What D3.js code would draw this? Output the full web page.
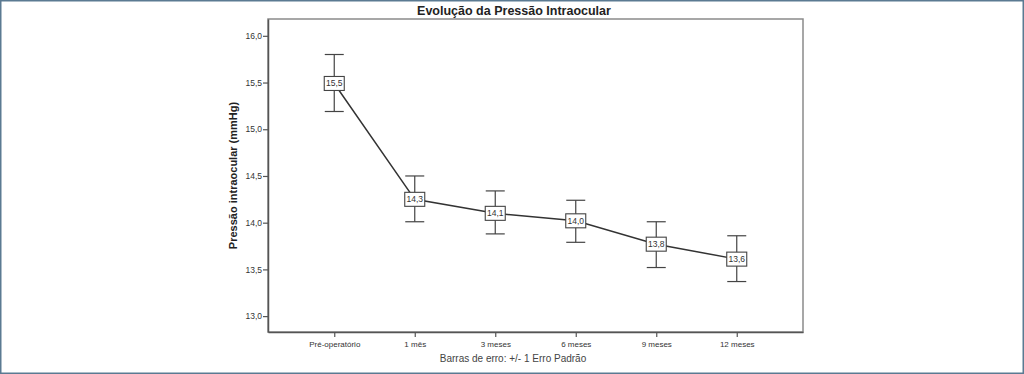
<!DOCTYPE html>
<html><head><meta charset="utf-8">
<script src="https://cdn.jsdelivr.net/npm/d3@7"></script>
<style>
html,body{margin:0;padding:0;background:#fff;}
svg{display:block;}
</style></head>
<body>
<svg id="c" width="1024" height="374"></svg>
<script>
const categories = ["Pré-operatório","1 mês","3 meses","6 meses","9 meses","12 meses"];
const means = [15.49, 14.25, 14.10, 14.02, 13.77, 13.61];
const upper = [15.80, 14.50, 14.34, 14.24, 14.01, 13.86];
const lower = [15.19, 14.01, 13.88, 13.79, 13.52, 13.37];
const valueLabels = ["15,5","14,3","14,1","14,0","13,8","13,6"];
const yTicks = [13.0, 13.5, 14.0, 14.5, 15.0, 15.5, 16.0];

const svg = d3.select("#c");
const W = 1024, H = 374;
const m = {left:268, right:803, top:19, bottom:332};

// outer frame
svg.append("rect").attr("x",0.75).attr("y",0.75).attr("width",W-1.5).attr("height",H-1.5)
  .attr("fill","#fff").attr("stroke","#5b7a92").attr("stroke-width",1.5);

const x = d3.scalePoint().domain(categories).range([m.left, m.right]).padding(0.823);
const y = d3.scaleLinear().domain([12.83, 16.18]).range([m.bottom, m.top]);

// plot frame
svg.append("rect").attr("x",m.left).attr("y",m.top).attr("width",m.right-m.left).attr("height",m.bottom-m.top)
  .attr("fill","none").attr("stroke","#8a8a8a").attr("stroke-width",1.5);

const fmt = d => d.toFixed(1).replace(".", ",");
const yAxis = d3.axisLeft(y).tickValues(yTicks).tickFormat(fmt).tickSize(5).tickSizeOuter(0);
const gy = svg.append("g").attr("transform",`translate(${m.left},0)`).call(yAxis);
gy.select(".domain").attr("stroke","#555").attr("stroke-width",1.5);
gy.selectAll(".tick line").attr("stroke","#555").attr("stroke-width",1.2);
gy.selectAll(".tick text").attr("font-family","Arial, 'Liberation Sans', sans-serif").attr("font-size",8.5).attr("fill","#333").attr("x",-6);

const xAxis = d3.axisBottom(x).tickSize(5).tickSizeOuter(0);
const gx = svg.append("g").attr("transform",`translate(0,${m.bottom})`).call(xAxis);
gx.select(".domain").attr("stroke","#555").attr("stroke-width",1.5);
gx.selectAll(".tick line").attr("stroke","#555").attr("stroke-width",1.2);
gx.selectAll(".tick text").attr("font-family","Arial, 'Liberation Sans', sans-serif").attr("font-size",8).attr("fill","#333").attr("y",9);

// title
svg.append("text").attr("x",514).attr("y",15).attr("text-anchor","middle")
  .attr("font-family","Arial, 'Liberation Sans', sans-serif").attr("font-weight","bold").attr("font-size",12.5).attr("fill","#222")
  .text("Evolução da Pressão Intraocular");

// y title
svg.append("text").attr("transform",`translate(237,${(m.top+m.bottom)/2}) rotate(-90)`).attr("text-anchor","middle")
  .attr("font-family","Arial, 'Liberation Sans', sans-serif").attr("font-weight","bold").attr("font-size",11).attr("fill","#222")
  .text("Pressão intraocular (mmHg)");

// x title
svg.append("text").attr("x",513).attr("y",362).attr("text-anchor","middle")
  .attr("font-family","Arial, 'Liberation Sans', sans-serif").attr("font-size",10).attr("fill","#444")
  .text("Barras de erro: +/- 1 Erro Padrão");

const data = categories.map((c,i)=>({c, m:means[i], u:upper[i], l:lower[i], lab:valueLabels[i]}));

// error bars
const eb = svg.append("g").attr("stroke","#444").attr("stroke-width",1.2).attr("fill","none");
data.forEach(d=>{
  const cx = x(d.c);
  eb.append("line").attr("x1",cx).attr("x2",cx).attr("y1",y(d.u)).attr("y2",y(d.l));
  eb.append("line").attr("x1",cx-9.5).attr("x2",cx+9.5).attr("y1",y(d.u)).attr("y2",y(d.u));
  eb.append("line").attr("x1",cx-9.5).attr("x2",cx+9.5).attr("y1",y(d.l)).attr("y2",y(d.l));
});

// line
svg.append("path").datum(data)
  .attr("d", d3.line().x(d=>x(d.c)).y(d=>y(d.m)))
  .attr("fill","none").attr("stroke","#333").attr("stroke-width",1.5);

// markers with labels
const mk = svg.append("g").selectAll("g").data(data).join("g")
  .attr("transform", d=>`translate(${x(d.c)},${y(d.m)})`);
mk.append("rect").attr("x",-10).attr("y",-7).attr("width",20).attr("height",14)
  .attr("fill","#fff").attr("stroke","#444").attr("stroke-width",1.1);
mk.append("text").attr("text-anchor","middle").attr("y",3)
  .attr("font-family","Arial, 'Liberation Sans', sans-serif").attr("font-size",8.5).attr("fill","#333")
  .text(d=>d.lab);
</script>
</body></html>
